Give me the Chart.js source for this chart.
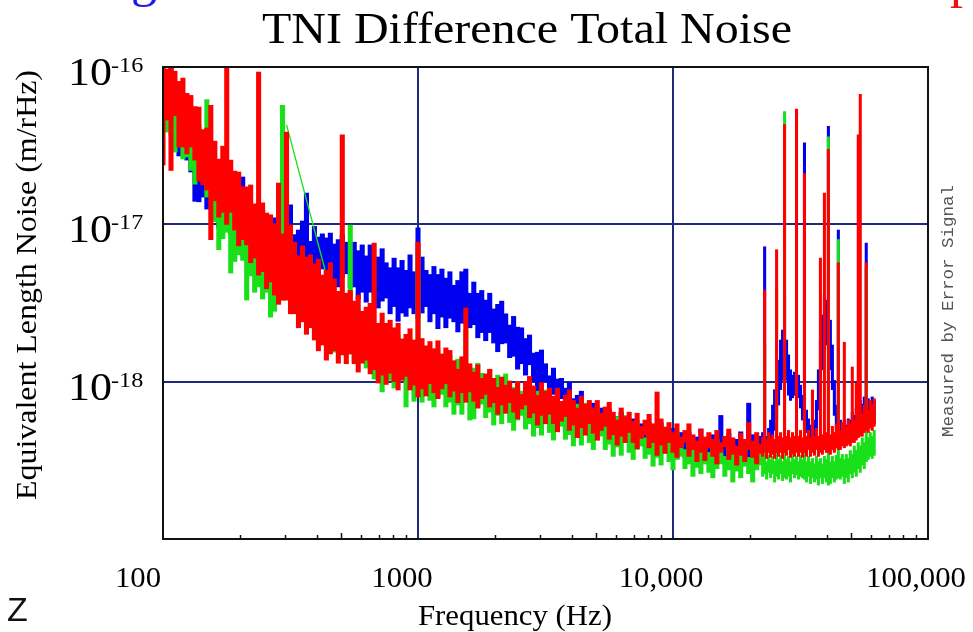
<!DOCTYPE html>
<html>
<head>
<meta charset="utf-8">
<title>TNI Difference Total Noise</title>
<script src="https://cdn.jsdelivr.net/npm/chart.js@4.4.1/dist/chart.umd.min.js"></script>
<style>
    html, body { margin: 0; padding: 0; background: #ffffff; }
    #wrap { width: 973px; height: 632px; position: relative; }
</style>
</head>
<body>
<div id="wrap"><canvas id="chartNoise"></canvas></div>
<script>
// Spectra are stored as min/max per frequency bin, in units of 1e-18 m/rHz
const ASD_UNIT = 1e-18;

const freqHz = [
    100, 103.7, 107.5, 111.4, 115.5, 119.7, 124.1, 128.6, 133.4, 138.3,
    143.3, 148.6, 154.0, 159.7, 165.5, 171.6, 177.8, 184.3, 191.1, 198.1,
    205.4, 212.9, 220.7, 228.8, 237.1, 245.8, 254.8, 264.1, 273.8, 283.9,
    294.3, 305.0, 316.2, 327.8, 339.8, 352.3, 365.2, 378.6, 392.4, 406.8,
    421.7, 437.2, 453.2, 469.8, 487.0, 504.8, 523.3, 542.5, 562.3, 582.9,
    604.3, 626.5, 649.4, 673.2, 697.9, 723.4, 749.9, 777.4, 805.9, 835.4,
    866.0, 897.7, 930.6, 964.7,
    1000, 1037, 1075, 1114, 1155, 1197, 1241, 1286, 1334, 1383,
    1433, 1486, 1540, 1597, 1655, 1716, 1778, 1843, 1911, 1981,
    2054, 2129, 2207, 2288, 2371, 2458, 2548, 2641, 2738, 2839,
    2943, 3050, 3162, 3278, 3398, 3523, 3652, 3786, 3924, 4068,
    4217, 4372, 4532, 4698, 4870, 5048, 5233, 5425, 5623, 5829,
    6043, 6265, 6494, 6732, 6979, 7234, 7499, 7774, 8059, 8354,
    8660, 8977, 9306, 9647,
    10000, 10366, 10746, 11140, 11548, 11971, 12409, 12864, 13335, 13826,
    14330, 14860, 15400, 15970, 16550, 17160, 17780, 18430, 19110, 19810,
    20540, 21290, 22070,
    // finer bins above 22 kHz
    22468, 22876, 23291, 23714, 24144, 24582, 25029, 25483, 25946, 26417,
    26896, 27384, 27881, 28387, 28903, 29427, 29961, 30505, 31059, 31623,
    32197, 32781, 33376, 33982, 34599, 35227, 35866, 36517, 37180, 37855,
    38542, 39242, 39954, 40679, 41417, 42170, 42935, 43714, 44508, 45316,
    46138, 46976, 47828, 48697, 49580, 50480, 51397, 52330, 53280, 54247,
    55232, 56234, 57255, 58294, 59353, 60430, 61527
];
const FINE_START = 151;

const blueHigh = [
    100, 82, 100, 72, 69, 66, 54, 39.2, 38, 32,
    30, 25.2, 24.9, 19.4, 18.6, 19.1, 15.6, 13.1, 14.7, 12.7,
    20, 11.6, 12.9, 10.5, 13.6, 12.3, 10.4, 9.6, 11.0, 9.6,
    10.7, 9.2, 13.3, 8.6, 9.2, 10.5, 15.8, 7.8, 9.7, 8.3,
    8.7, 8.2, 8.8, 7.5, 8.0, 8.6, 7.7, 6.6, 7.7, 6.8,
    7.4, 6.3, 7.4, 5.8, 6.2, 7.0, 5.7, 5.3, 6.1, 5.3,
    5.9, 5.1, 6.4, 5.0,
    9.5, 6.2, 5.1, 4.8, 5.4, 4.8, 5.2, 4.55, 5.0, 4.1,
    4.4, 5.0, 5.2, 3.65, 4.3, 3.65, 3.8, 3.3, 3.65, 2.9,
    3.1, 3.25, 2.7, 2.29, 2.6, 2.22, 2.2, 1.88, 1.98, 1.52,
    1.54, 1.59, 1.3, 1.09, 1.22, 1.04, 1.05, 0.91, 0.99, 0.78,
    0.82, 0.87, 0.72, 0.63, 0.73, 0.65, 0.68, 0.60, 0.67, 0.55,
    0.60, 0.64, 0.55, 0.48, 0.58, 0.51, 0.54, 0.49, 0.55, 0.45,
    0.49, 0.55, 0.46, 0.42,
    0.505, 0.445, 0.475, 0.43, 0.48, 0.41, 0.445, 0.50, 0.43, 0.39,
    0.46, 0.42, 0.61, 0.41, 0.47, 0.39, 0.43, 0.48, 0.42, 0.73,
    0.46, 0.415, 0.45,
    0.475, 7.2, 0.45, 0.505, 0.57, 0.71, 0.89, 1.1, 1.37, 1.84,
    2.13, 3.55, 1.84, 1.48, 1.19, 1.1, 1.15, 1.19, 1.1, 0.95,
    0.82, 33, 0.66, 0.58, 0.53, 0.505, 0.57, 0.76, 1.19, 1.84,
    2.65, 3.55, 3.3, 42, 2.46, 1.71, 1.02, 0.71, 9.2, 0.57,
    0.53, 0.57, 0.53, 0.58, 0.57, 0.64, 0.61, 0.68, 0.66, 0.76,
    0.72, 0.80, 7.6, 0.78, 0.73, 0.80, 0.76
];
const blueLow = [
    60, 43.5, 55.6, 37, 27.2, 32, 25.6, 21.5, 14, 13.9,
    14.9, 12.5, 12.9, 11.9, 9.5, 10.7, 10.7, 8.7, 8.9, 7.2,
    8.1, 7.1, 8.2, 6.9, 6.5, 7.2, 7.4, 5.9, 6.9, 5.5,
    6.2, 5.7, 6.5, 5.7, 5.0, 6.0, 6.1, 5.3, 5.4, 4.8,
    5.2, 4.5, 5.3, 4.5, 4.0, 4.6, 4.85, 3.95, 4.0, 3.35,
    3.7, 3.2, 3.7, 3.1, 2.94, 3.25, 3.4, 2.7, 3.0, 2.42,
    2.73, 2.6, 2.94, 2.7,
    2.53, 2.73, 3.0, 2.4, 2.7, 2.17, 2.57, 2.2, 2.53, 2.4,
    2.07, 2.35, 2.65, 2.2, 2.3, 1.9, 2.05, 1.82, 2.05, 1.76,
    1.55, 1.74, 1.76, 1.42, 1.45, 1.2, 1.3, 1.1, 1.28, 1.0,
    0.86, 0.97, 1.0, 0.81, 0.83, 0.69, 0.78, 0.66, 0.76, 0.66,
    0.57, 0.65, 0.68, 0.55, 0.58, 0.485, 0.55, 0.48, 0.55, 0.48,
    0.43, 0.49, 0.52, 0.43, 0.45, 0.385, 0.435, 0.385, 0.45, 0.39,
    0.355, 0.41, 0.44, 0.355,
    0.39, 0.325, 0.375, 0.33, 0.39, 0.34, 0.31, 0.37, 0.39, 0.33,
    0.35, 0.30, 0.35, 0.31, 0.375, 0.33, 0.30, 0.36, 0.385, 0.33,
    0.355, 0.30, 0.35,
    0.355, 0.37, 0.345, 0.38, 0.39, 0.43, 0.49, 0.57, 0.71, 0.89,
    1.02, 1.19, 1.02, 0.82, 0.76, 0.79, 0.82, 0.86, 0.79, 0.68,
    0.57, 0.53, 0.475, 0.43, 0.395, 0.38, 0.40, 0.49, 0.66, 0.89,
    1.19, 1.59, 1.71, 1.59, 1.19, 0.89, 0.61, 0.475, 0.44, 0.41,
    0.395, 0.43, 0.40, 0.43, 0.41, 0.45, 0.44, 0.475, 0.46, 0.52,
    0.505, 0.57, 0.57, 0.55, 0.53, 0.57, 0.54
];

// green drops out between ~300 and ~470 Hz
const greenHigh = [
    78, 61, 80, 62, 66, 52.5, 55.6, 43.5, 45, 42.8,
    35, 62, 30.5, 25.6, 24, 20.3, 20, 15.6, 16, 15.4,
    12.5, 10.5, 11.8, 9.9, 9.9, 8.7, 9.4, 7.5, 7.7, 8.0,
    57, null, null, null, null, null, null, null, null, null,
    null, null, null, 3.07, 3.2, 2.8, 3.07, 9.9, 2.7, 2.85,
    2.4, 2.1, 2.4, 2.1, 2.13, 1.88, 2.07, 1.71, 1.84, 1.98,
    1.69, 1.48, 1.74, 1.52,
    6.4, 1.46, 1.64, 1.35, 1.48, 1.62, 1.39, 1.24, 1.48, 1.31,
    1.39, 1.26, 2.13, 1.12, 1.22, 1.31, 1.13, 1.0, 1.19, 1.04,
    1.1, 1.0, 1.12, 0.9, 0.92, 1.0, 0.87, 0.78, 0.92, 0.82,
    0.87, 0.8, 0.885, 0.72, 0.76, 0.83, 0.72, 0.64, 0.76, 0.68,
    0.72, 0.65, 0.73, 0.60, 0.64, 0.70, 0.60, 0.54, 0.64, 0.57,
    0.60, 0.55, 0.61, 0.50, 0.52, 0.57, 0.49, 0.44, 0.52, 0.46,
    0.49, 0.45, 0.505, 0.42,
    0.45, 0.48, 0.41, 0.37, 0.44, 0.39, 0.41, 0.38, 0.43, 0.355,
    0.39, 0.43, 0.37, 0.335, 0.40, 0.36, 0.385, 0.35, 0.40, 0.33,
    0.37, 0.405, 0.355,
    0.325, 1.76, 0.31, 0.34, 0.32, 0.335, 0.31, 4.0, 0.32, 0.34,
    0.31, 52, 0.32, 0.335, 0.31, 0.34, 0.32, 0.335, 0.31, 0.34,
    0.32, 3.45, 0.31, 0.335, 0.31, 0.325, 0.30, 0.335, 0.31, 0.325,
    0.30, 0.335, 0.32, 36, 0.31, 0.335, 0.31, 0.34, 8.0, 0.325,
    0.345, 0.32, 0.345, 0.325, 0.365, 0.345, 0.39, 0.365, 0.41, 0.39,
    0.44, 0.41, 5.3, 0.44, 0.475, 0.45, 0.49
];
const greenLow = [
    53, 38.6, 36.4, 28.8, 31, 26, 26.8, 22, 18, 19.1,
    19.1, 14.9, 15.2, 10.4, 6.9, 8.1, 8.9, 4.9, 5.8, 6.4,
    5.9, 3.3, 4.7, 3.7, 4.0, 3.35, 3.7, 2.57, 2.8, 3.15,
    3.3, null, null, null, null, null, null, null, null, null,
    null, null, null, 1.54, 1.71, 1.5, 1.74, 1.5, 1.34, 1.48,
    1.54, 1.22, 1.3, 1.04, 1.17, 0.86, 1.19, 1.02, 0.91, 1.04,
    1.06, 0.69, 0.91, 0.75,
    0.85, 0.74, 0.87, 0.76, 0.69, 0.8, 0.83, 0.69, 0.74, 0.62,
    0.71, 0.62, 0.74, 0.57, 0.58, 0.68, 0.72, 0.59, 0.64, 0.53,
    0.61, 0.54, 0.63, 0.55, 0.49, 0.57, 0.61, 0.50, 0.54, 0.45,
    0.51, 0.457, 0.54, 0.475, 0.425, 0.49, 0.52, 0.43, 0.46, 0.39,
    0.445, 0.395, 0.47, 0.41, 0.37, 0.425, 0.45, 0.37, 0.40, 0.335,
    0.385, 0.34, 0.41, 0.355, 0.32, 0.37, 0.39, 0.325, 0.345, 0.29,
    0.33, 0.295, 0.35, 0.31,
    0.275, 0.32, 0.335, 0.28, 0.30, 0.25, 0.285, 0.26, 0.30, 0.265,
    0.245, 0.28, 0.30, 0.25, 0.275, 0.23, 0.27, 0.245, 0.29, 0.26,
    0.23, 0.275, 0.295,
    0.25, 0.26, 0.24, 0.265, 0.245, 0.26, 0.23, 0.25, 0.24, 0.26,
    0.235, 0.245, 0.24, 0.25, 0.23, 0.26, 0.245, 0.255, 0.24, 0.25,
    0.245, 0.24, 0.23, 0.25, 0.225, 0.245, 0.23, 0.24, 0.22, 0.245,
    0.225, 0.245, 0.23, 0.22, 0.225, 0.245, 0.23, 0.24, 0.245, 0.24,
    0.25, 0.225, 0.245, 0.23, 0.26, 0.245, 0.265, 0.25, 0.28, 0.265,
    0.295, 0.28, 0.31, 0.32, 0.335, 0.325, 0.34
];
// straight segment the plotter drew across the green dropout
const greenGapHz = [305.0, 469.8];
const greenGapValue = [43, 3.07];

const redHigh = [
    100, 97, 100, 94, 81, 85, 68, 66, 56, 55.6,
    40, 41, 57, 33.8, 26, 31.4, 120, 25.6, 21.8, 21.5,
    17.3, 17.3, 17.8, 13.5, 93, 13.7, 11.8, 11.5, 10.1, 18.3,
    8.7, 38.6, 9.9, 7.7, 6.3, 7.3, 6.2, 6.4, 5.6, 6.0,
    4.76, 5.1, 5.7, 4.5, 3.75, 37, 3.65, 3.8, 3.25, 3.55,
    2.8, 2.98, 3.15, 7.6, 2.35, 2.73, 2.35, 2.46, 2.2, 2.35,
    1.87, 2.0, 2.17, 1.84,
    7.7, 1.88, 1.69, 1.8, 1.62, 1.82, 1.5, 1.64, 1.58, 1.36,
    1.2, 1.44, 2.94, 1.3, 1.15, 1.28, 1.05, 1.12, 1.2, 1.05,
    0.92, 1.07, 0.95, 1.01, 0.9, 1.0, 0.83, 1.0, 1.08, 0.94,
    0.82, 0.985, 0.87, 0.91, 0.81, 0.91, 0.75, 0.82, 0.885, 0.76,
    0.68, 0.81, 0.72, 0.76, 0.68, 0.76, 0.63, 0.69, 0.74, 0.64,
    0.57, 0.68, 0.60, 0.64, 0.56, 0.63, 0.52, 0.57, 0.62, 0.54,
    0.86, 0.58, 0.515, 0.55,
    0.475, 0.54, 0.445, 0.49, 0.54, 0.46, 0.42, 0.50, 0.445, 0.475,
    0.43, 0.49, 0.41, 0.45, 0.50, 0.44, 0.39, 0.47, 0.43, 0.55,
    0.42, 0.475, 0.40,
    0.44, 3.8, 0.43, 0.475, 0.44, 0.46, 0.43, 6.9, 0.45, 0.475,
    0.44, 43, 0.45, 0.49, 0.44, 0.475, 0.45, 54, 0.45, 0.49,
    0.44, 21, 0.45, 0.49, 0.44, 0.885, 0.45, 0.505, 0.45, 6.1,
    0.46, 15.8, 0.475, 30, 0.46, 0.52, 0.475, 0.54, 5.7, 0.49,
    0.55, 1.78, 0.52, 0.57, 0.54, 1.24, 0.57, 0.98, 37, 67,
    0.62, 0.71, 5.7, 0.66, 0.76, 0.72, 0.78
];
const redLow = [
    23.8, 46, 22, 49, 31, 31, 28, 31, 25.6, 18.8,
    17.8, 16.5, 8.0, 14.1, 11.1, 11.9, 10.0, 11.9, 9.2, 7.3,
    8.0, 7.4, 5.7, 6.1, 4.76, 5.0, 3.9, 4.3, 3.55, 3.1,
    3.3, 3.3, 2.7, 2.7, 2.2, 2.4, 2.0, 2.2, 1.84, 1.57,
    1.71, 1.37, 1.5, 1.57, 1.31, 1.48, 1.3, 1.5, 1.3, 1.15,
    1.31, 1.37, 1.12, 1.19, 0.98, 1.1, 0.96, 1.13, 1.0, 0.885,
    1.02, 1.08, 0.885, 0.95,
    0.8, 0.9, 0.81, 0.97, 0.85, 0.78, 0.9, 0.97, 0.8, 0.87,
    0.735, 0.85, 0.74, 0.86, 0.75, 0.68, 0.78, 0.83, 0.69, 0.735,
    0.62, 0.71, 0.63, 0.735, 0.64, 0.58, 0.67, 0.71, 0.59, 0.63,
    0.53, 0.61, 0.54, 0.62, 0.54, 0.48, 0.56, 0.60, 0.49, 0.53,
    0.44, 0.51, 0.457, 0.54, 0.47, 0.425, 0.49, 0.52, 0.43, 0.46,
    0.395, 0.45, 0.41, 0.475, 0.41, 0.375, 0.435, 0.457, 0.38, 0.41,
    0.34, 0.395, 0.35, 0.41,
    0.355, 0.33, 0.38, 0.41, 0.335, 0.37, 0.31, 0.355, 0.315, 0.38,
    0.335, 0.30, 0.355, 0.385, 0.32, 0.345, 0.295, 0.34, 0.31, 0.37,
    0.33, 0.30, 0.35,
    0.335, 0.355, 0.325, 0.355, 0.33, 0.345, 0.325, 0.355, 0.335, 0.355,
    0.325, 0.355, 0.34, 0.37, 0.33, 0.345, 0.335, 0.355, 0.335, 0.355,
    0.33, 0.355, 0.335, 0.37, 0.335, 0.355, 0.34, 0.37, 0.335, 0.355,
    0.345, 0.37, 0.355, 0.355, 0.345, 0.37, 0.355, 0.38, 0.37, 0.37,
    0.39, 0.38, 0.39, 0.40, 0.39, 0.41, 0.41, 0.425, 0.44, 0.45,
    0.45, 0.475, 0.49, 0.475, 0.505, 0.49, 0.52
];

const xTicks = [100, 1000, 10000, 100000];
const xTickLabels = ["100", "1000", "10,000", "100,000"];
const yTicks = [1e-19, 1e-18, 1e-17, 1e-16];
const yTickLabels = ["", "-18", "-17", "-16"];

const GRID_BLUE = "#1f2a7c";
const SERIF = '"Liberation Serif", "Times New Roman", serif';

// one floating bar per bin, spanning the trace's min..max in that bin
function bandSets(label, low, high, color, order) {
    const pts = [];
    freqHz.forEach((f, i) => {
        if (low[i] == null || high[i] == null) return;
        pts.push({ x: f, y: [low[i] * ASD_UNIT, high[i] * ASD_UNIT], fine: i >= FINE_START });
    });
    const common = {
        type: "bar",
        label: label,
        backgroundColor: color,
        borderWidth: 0,
        grouped: false,
        order: order
    };
    return [
        Object.assign({}, common, { data: pts.filter(p => !p.fine), barThickness: 4.4 }),
        Object.assign({}, common, { data: pts.filter(p => p.fine), barThickness: 2.4 })
    ];
}

function drawText(ctx, str, x, y, font, opts) {
    const o = Object.assign({ align: "left", sx: 1, width: null, angle: 0, color: "#000" }, opts);
    ctx.save();
    ctx.font = font;
    ctx.fillStyle = o.color;
    ctx.textAlign = o.align;
    ctx.textBaseline = "alphabetic";
    ctx.translate(x, y);
    if (o.angle) ctx.rotate(o.angle);
    let sx = o.sx;
    if (o.width) sx = o.width / ctx.measureText(str).width;
    ctx.scale(sx, 1);
    ctx.fillText(str, 0, 0);
    ctx.restore();
}

const decorations = {
    id: "decorations",
    afterDraw(chart) {
        const { ctx, chartArea: area, scales: { x, y } } = chart;

        // plot frame
        ctx.save();
        ctx.strokeStyle = "#111";
        ctx.lineWidth = 2;
        ctx.strokeRect(area.left, area.top, area.right - area.left, area.bottom - area.top);

        // minor ticks along the frequency axis, inside the frame
        ctx.lineWidth = 1.5;
        for (const decade of [100, 1000, 10000]) {
            for (let m = 2; m <= 9; m++) {
                const px = Math.round(x.getPixelForValue(decade * m)) + 0.5;
                const len = m === 5 ? 6 : 4;
                ctx.beginPath();
                ctx.moveTo(px, area.bottom);
                ctx.lineTo(px, area.bottom - len);
                ctx.stroke();
            }
        }
        ctx.restore();

        const nudge = [-25, -16, -12, -12];
        xTicks.forEach((v, i) => {
            drawText(ctx, xTickLabels[i], x.getPixelForValue(v) + nudge[i], 587,
                "29px " + SERIF, { align: "center", sx: 1.06 });
        });

        yTicks.forEach((v, i) => {
            if (!yTickLabels[i]) return;
            const py = y.getPixelForValue(v);
            drawText(ctx, "10", 68, py + 18, "40px " + SERIF, { sx: 1.1 });
            drawText(ctx, yTickLabels[i], 111, py + 5, "22px " + SERIF, { sx: 1.1 });
        });

        drawText(ctx, "TNI Difference Total Noise", 527, 43, "44px " + SERIF,
            { align: "center", width: 530 });
        drawText(ctx, "Frequency (Hz)", 418, 625, "29px " + SERIF, { width: 194 });
        drawText(ctx, "Equivalent Length Noise (m/rHz)", 36, 285, "29px " + SERIF,
            { align: "center", width: 430, angle: -Math.PI / 2 });
        drawText(ctx, "Measured by Error Signal", 953, 311, '17px "Liberation Mono", monospace',
            { align: "center", width: 252, angle: -Math.PI / 2, color: "#555" });

        // slide text cut off at the edges
        drawText(ctx, "g", 131, -4, "52px " + SERIF, { color: "#1a1aee" });
        drawText(ctx, "p", 950, -3, "52px " + SERIF, { color: "#ee1111" });
        drawText(ctx, "Z", 7, 621, '34px "Liberation Sans", sans-serif', { color: "#111" });
    }
};

const RED = "#ff0000";
const GREEN = "#19e019";
const BLUE = "#0000f0";

new Chart(document.getElementById("chartNoise"), {
    type: "bar",
    data: {
        datasets: [
            ...bandSets("red", redLow, redHigh, RED, 0),
            {
                type: "line",
                label: "green gap",
                data: greenGapHz.map((f, i) => ({ x: f, y: greenGapValue[i] * ASD_UNIT })),
                borderColor: GREEN,
                borderWidth: 1.3,
                pointRadius: 0,
                order: 1
            },
            ...bandSets("green", greenLow, greenHigh, GREEN, 1),
            ...bandSets("blue", blueLow, blueHigh, BLUE, 2)
        ]
    },
    options: {
        responsive: true,
        maintainAspectRatio: false,
        animation: false,
        layout: {
            padding: { left: 163, right: 45, top: 67, bottom: 93 }
        },
        scales: {
            x: {
                type: "logarithmic",
                min: 100,
                max: 100000,
                offset: false,
                afterBuildTicks: (axis) => { axis.ticks = xTicks.map(v => ({ value: v })); },
                ticks: { display: false },
                border: { display: false },
                grid: {
                    offset: false,
                    drawTicks: false,
                    lineWidth: 2,
                    color: (c) => (c.tick && c.tick.value > 100 && c.tick.value < 100000) ? GRID_BLUE : "rgba(0,0,0,0)"
                }
            },
            y: {
                type: "logarithmic",
                min: 1e-19,
                max: 1e-16,
                afterBuildTicks: (axis) => { axis.ticks = yTicks.map(v => ({ value: v })); },
                ticks: { display: false },
                border: { display: false },
                grid: {
                    drawTicks: false,
                    lineWidth: 2,
                    color: (c) => (c.tick && c.tick.value > 1.5e-19 && c.tick.value < 5e-17) ? GRID_BLUE : "rgba(0,0,0,0)"
                }
            }
        },
        plugins: {
            legend: { display: false },
            tooltip: { enabled: false }
        }
    },
    plugins: [decorations]
});
</script>
</body>
</html>
